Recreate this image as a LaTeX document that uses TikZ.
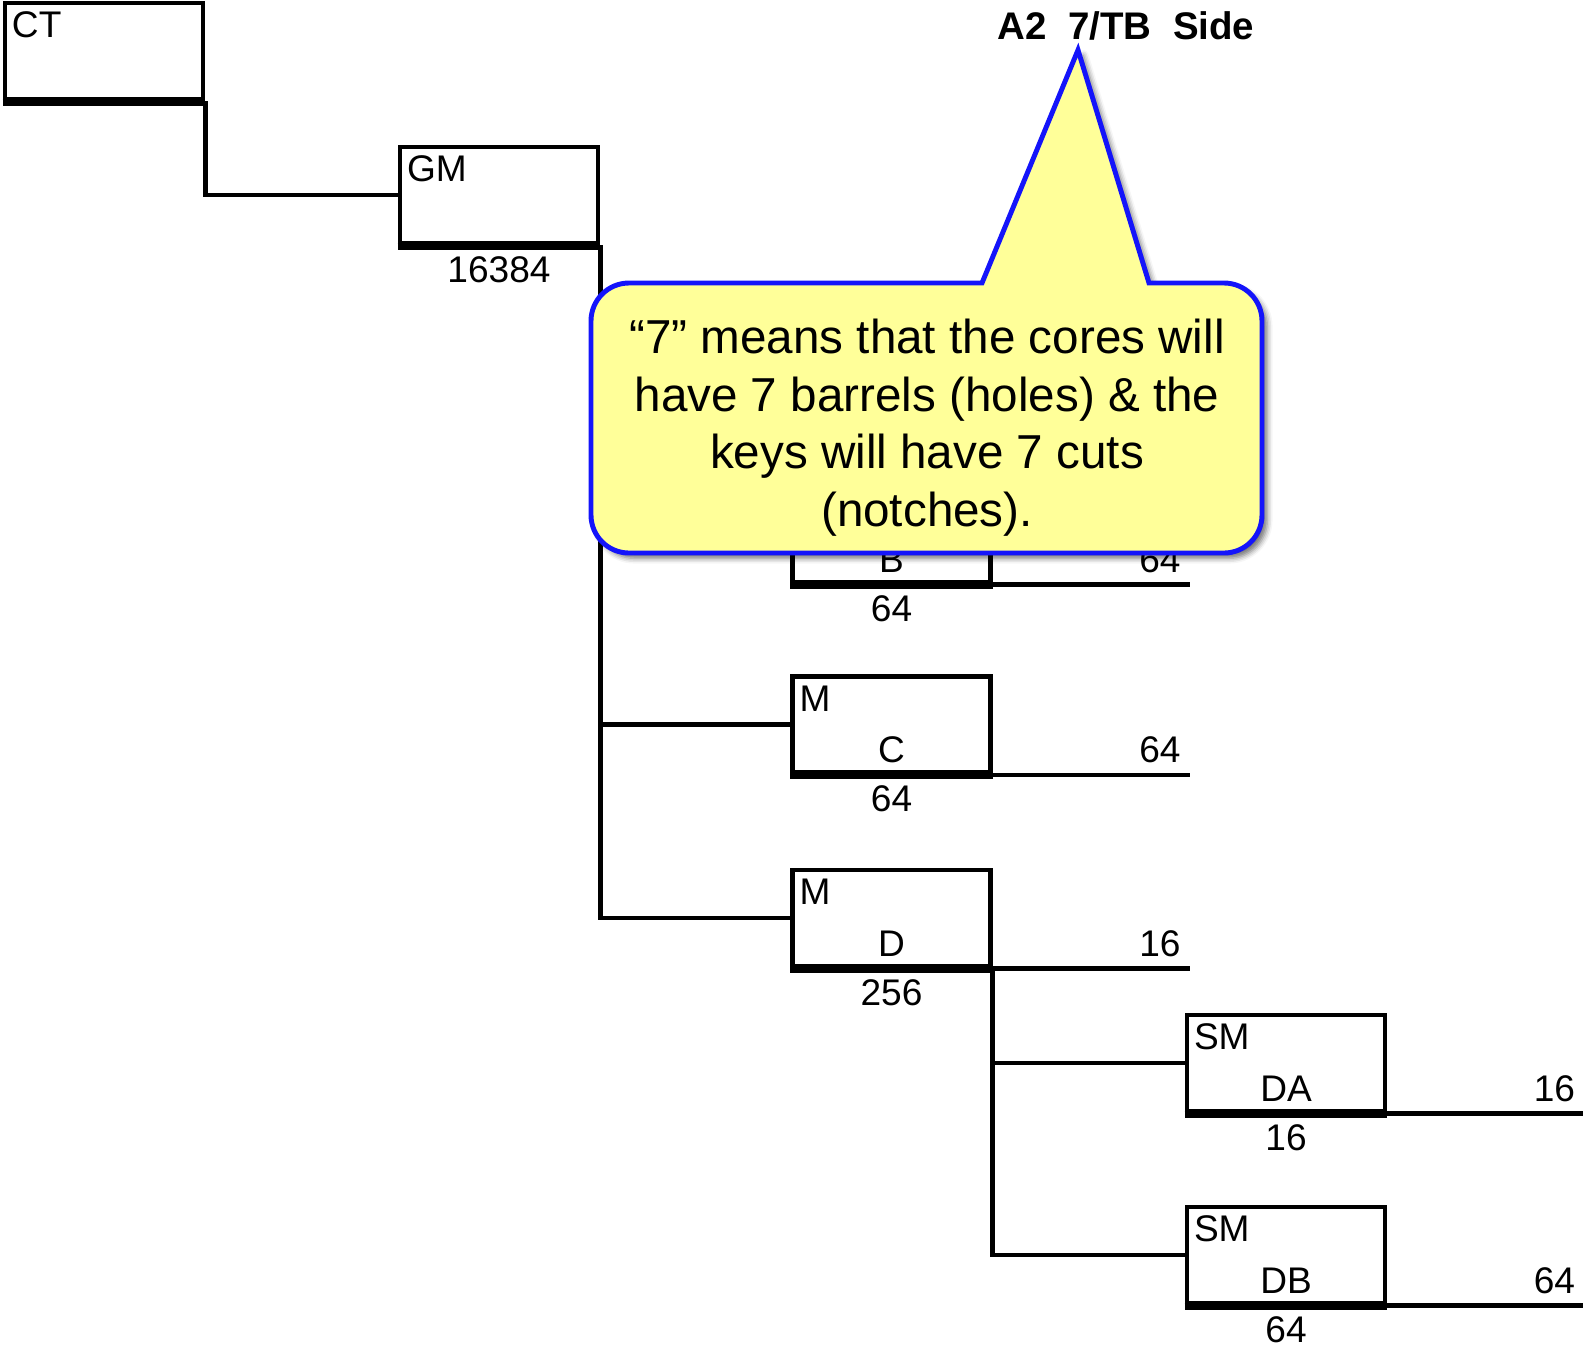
\documentclass[tikz,border=0pt]{standalone}
\usepackage{fontspec}
\setmainfont{Liberation Sans}
\usetikzlibrary{calc,shadows.blur}

\definecolor{calloutblue}{RGB}{20,20,250}
\definecolor{calloutfill}{RGB}{255,255,153}

\newcommand\lblfont{\fontsize{21.1pt}{24pt}\selectfont}
\newcommand\notefont{\fontsize{27.1pt}{32.6pt}\selectfont}
\newcommand\headfont{\fontsize{21.9pt}{26pt}\selectfont\bfseries}

\begin{document}
\begin{tikzpicture}[x=0.02cm,y=0.02cm,
  unitbox/.style={draw, line width=2.7pt, minimum width=3.96cm,
                  minimum height=1.92cm, inner sep=0pt},
  baseedge/.style={line width=3.8pt},
  link/.style={line width=2.7pt},
  lbl/.style={font=\lblfont, inner sep=0pt},
  note/.style={font=\notefont, inner sep=0pt, anchor=base},
  callout/.style={draw=calloutblue, fill=calloutfill, line width=2.8pt,
                  blur shadow={shadow xshift=3pt, shadow yshift=-3pt,
                               shadow blur radius=3pt, shadow opacity=55}}]

\useasboundingbox (0,0) rectangle (1583,-1347);

% key system boxes
\node[unitbox] (ct) at (104,-51)    {};
\node[unitbox] (gm) at (499,-195)   {};
\node[unitbox] (b)  at (891.5,-534) {};
\node[unitbox] (c)  at (891.5,-724.5) {};
\node[unitbox] (d)  at (891.5,-918) {};
\node[unitbox] (da) at (1286,-1063) {};
\node[unitbox] (db) at (1286,-1255) {};

% heavier bottom edges
\foreach \n in {ct,gm,b,c,d,da,db}
  \draw[baseedge] ([yshift=-0.6pt]\n.south west) -- ([yshift=-0.6pt]\n.south east);

% hierarchy connectors
\draw[link] (ct.south east) |- (gm.west);
\draw[link] (gm.south east) |- (d.west);
\draw[link] (gm.south east |- b.west) -- (b.west);
\draw[link] (gm.south east |- c.west) -- (c.west);
\draw[link] (d.south east) |- (db.west);
\draw[link] (d.south east |- da.west) -- (da.west);

% count lines to the right of each box
\foreach \n in {b,c,d,da,db}{
  \coordinate (\n R) at ($(\n.south east)+(197,0)$);
  \draw[link] (\n.south east) -- (\n R);
}

% top-left labels
\node[lbl, anchor=base west] (ctT) at ($(ct.north west)+(9,-37)$) {CT};
\node[lbl, anchor=base west] (gmT) at ($(gm.north west)+(9,-37)$) {GM};
\node[lbl, anchor=base west] (cT)  at ($(c.north west)+(9,-37)$)  {M};
\node[lbl, anchor=base west] (dT)  at ($(d.north west)+(9,-37)$)  {M};
\node[lbl, anchor=base west] (daT) at ($(da.north west)+(9,-37)$) {SM};
\node[lbl, anchor=base west] (dbT) at ($(db.north west)+(9,-37)$) {SM};

% names inside the boxes
\node[lbl, anchor=base] (bN)  at ($(b.south)+(0,12)$)  {B};
\node[lbl, anchor=base] (cN)  at ($(c.south)+(0,12)$)  {C};
\node[lbl, anchor=base] (dN)  at ($(d.south)+(0,12)$)  {D};
\node[lbl, anchor=base] (daN) at ($(da.south)+(0,12)$) {DA};
\node[lbl, anchor=base] (dbN) at ($(db.south)+(0,12)$) {DB};

% counts below the boxes
\node[lbl, anchor=base] (gmC) at ($(gm.south)+(0,-37)$) {16384};
\node[lbl, anchor=base] (bC)  at ($(b.south)+(0,-37)$)  {64};
\node[lbl, anchor=base] (cC)  at ($(c.south)+(0,-37)$)  {64};
\node[lbl, anchor=base] (dC)  at ($(d.south)+(0,-37)$)  {256};
\node[lbl, anchor=base] (daC) at ($(da.south)+(0,-37)$) {16};
\node[lbl, anchor=base] (dbC) at ($(db.south)+(0,-37)$) {64};

% counts on the right-hand lines
\node[lbl, anchor=base east] (bRC)  at ($(bR)+(-9,12)$)  {64};
\node[lbl, anchor=base east] (cRC)  at ($(cR)+(-9,12)$)  {64};
\node[lbl, anchor=base east] (dRC)  at ($(dR)+(-9,12)$)  {16};
\node[lbl, anchor=base east] (daRC) at ($(daR)+(-9,12)$) {16};
\node[lbl, anchor=base east] (dbRC) at ($(dbR)+(-9,12)$) {64};

% heading
\node[font=\headfont, inner sep=0pt, anchor=base] (title) at (1126,-39) {A2~~7/TB~~Side};

% speech bubble pointing at the "7"
\path[callout] (982,-283) -- (1078,-50) -- (1149,-283) -- (1224,-283)
  arc[start angle=90, end angle=0, radius=38] -- (1262,-515)
  arc[start angle=0, end angle=-90, radius=38] -- (629,-553)
  arc[start angle=-90, end angle=-180, radius=38] -- (591,-321)
  arc[start angle=180, end angle=90, radius=38] -- cycle;

\node[note] (l1) at (927,-353) {“7” means that the cores will};
\node[note] (l2) at (927,-411) {have 7 barrels (holes) \& the};
\node[note] (l3) at (927,-468) {keys will have 7 cuts};
\node[note] (l4) at (927,-526) {(notches).};

\end{tikzpicture}
\end{document}
